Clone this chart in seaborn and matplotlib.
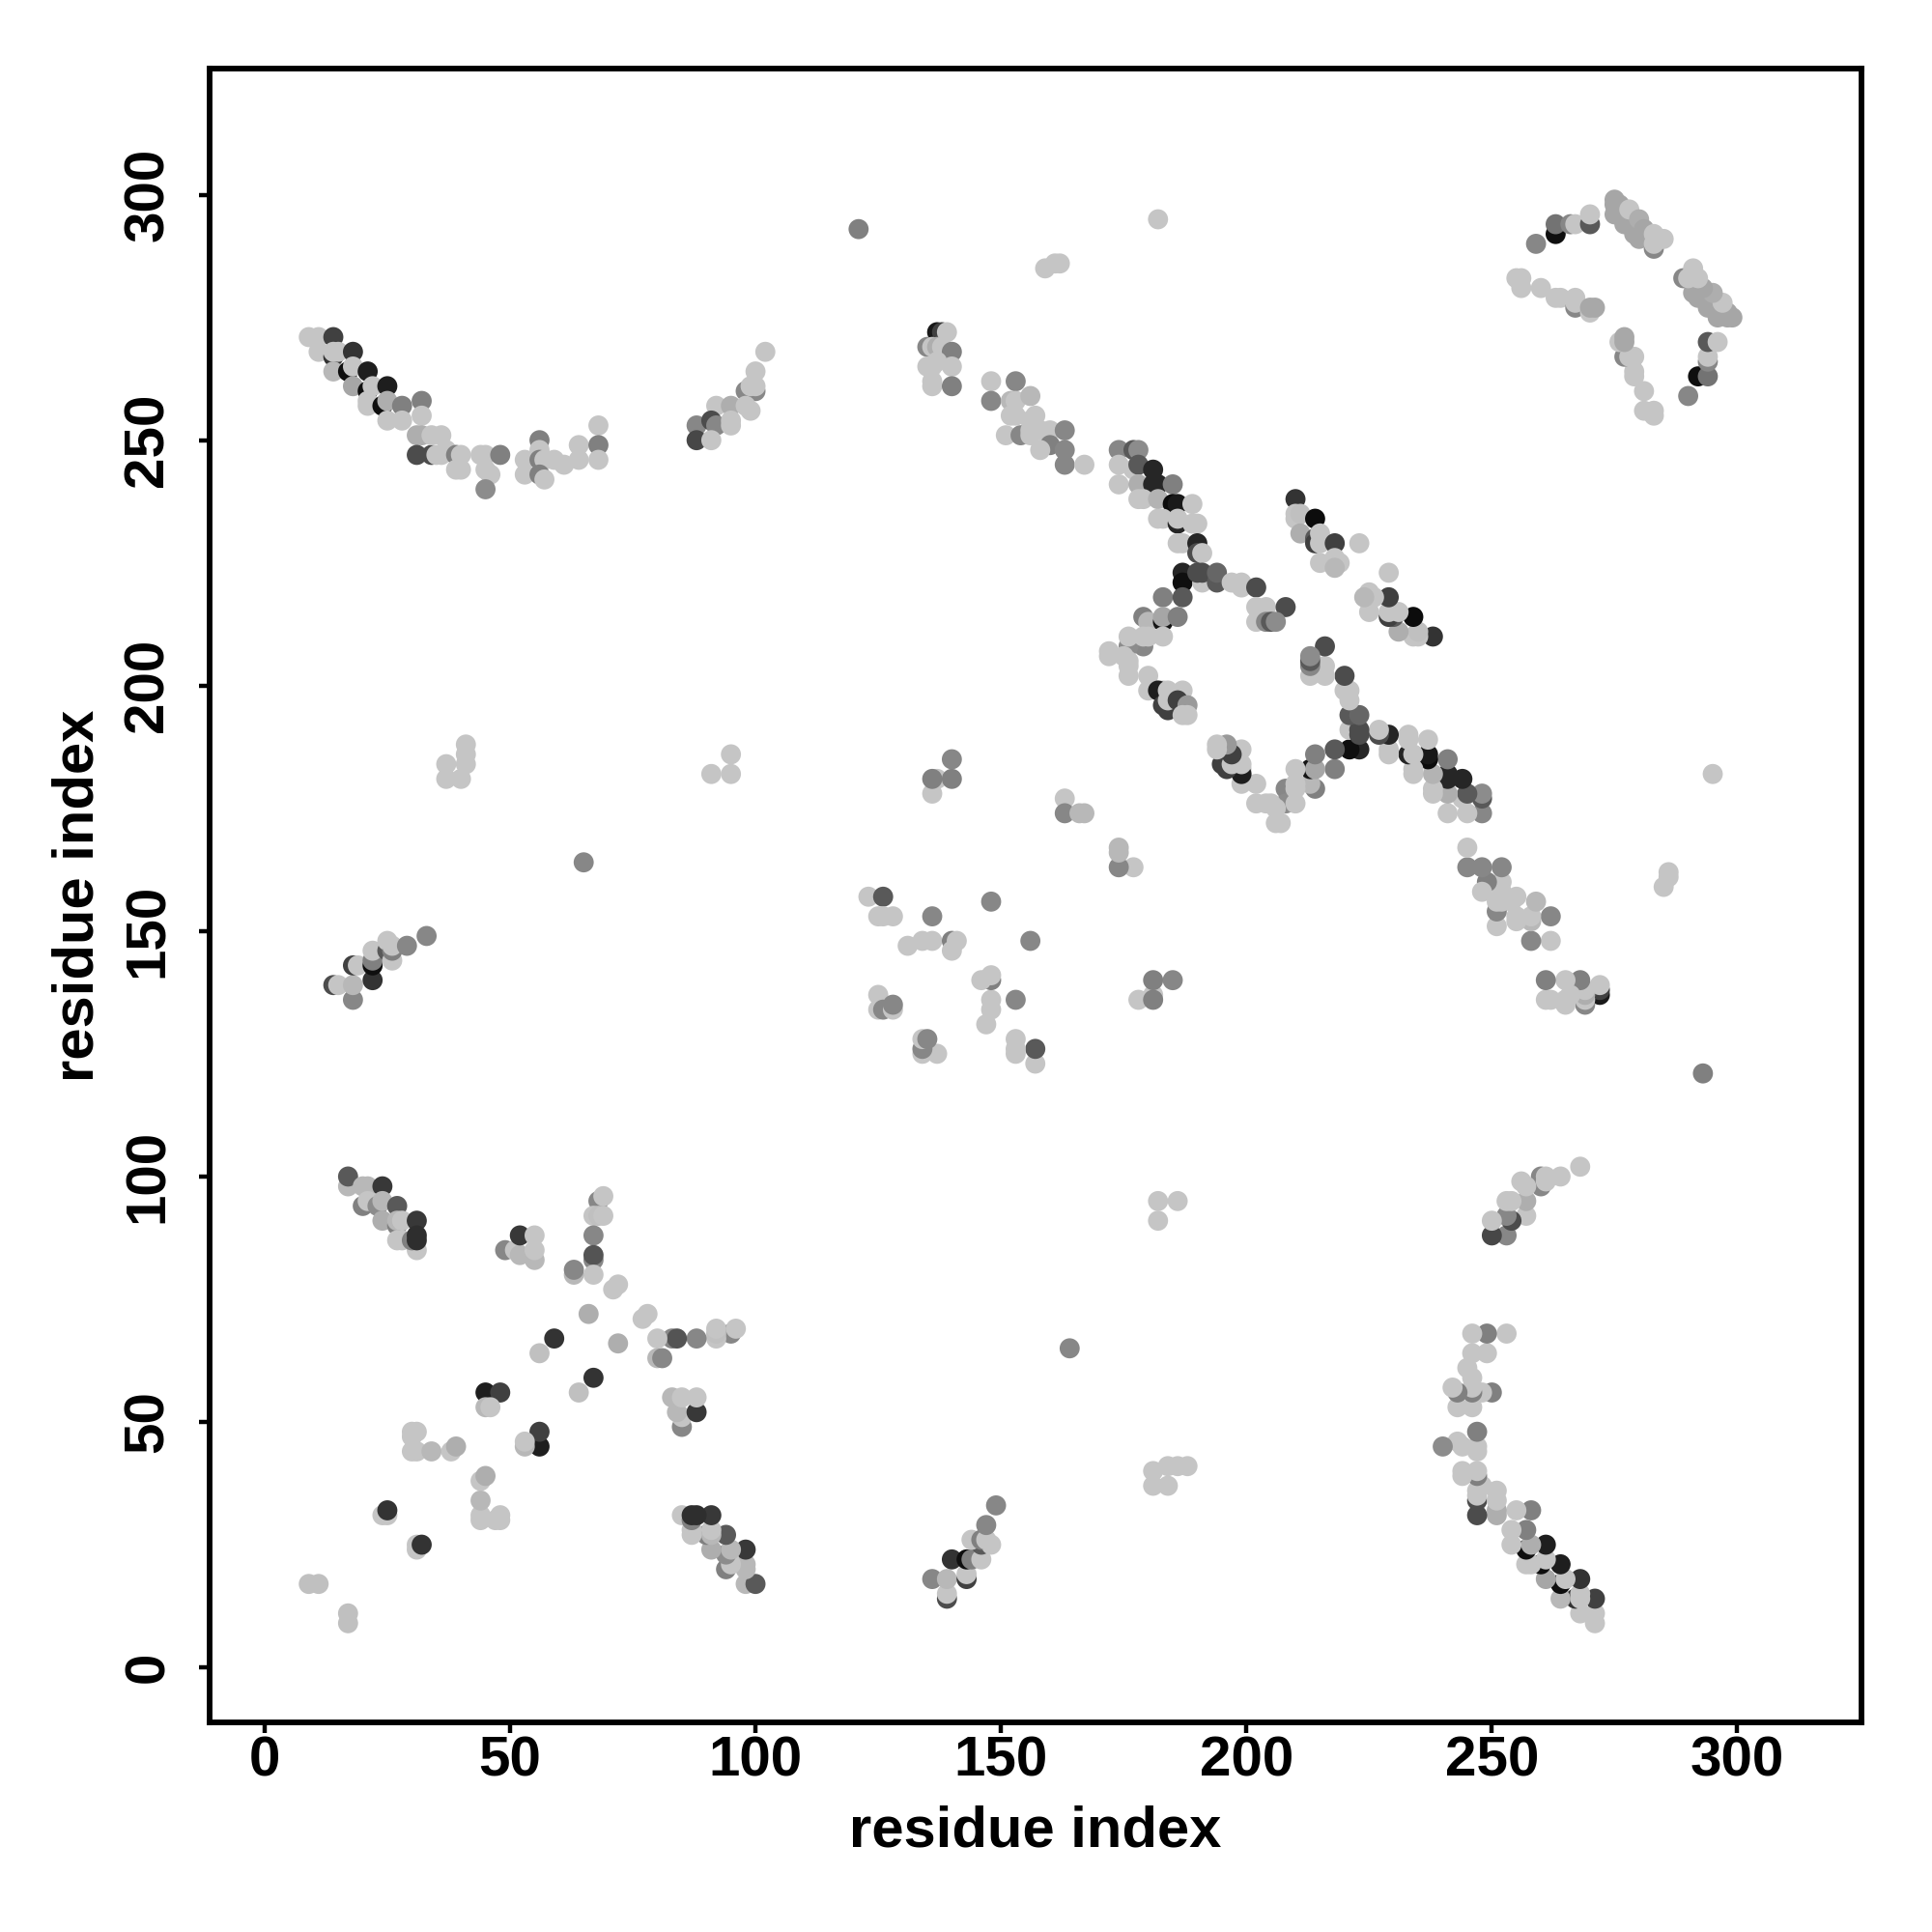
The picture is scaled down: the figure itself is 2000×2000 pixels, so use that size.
import matplotlib
matplotlib.use('Agg')
import matplotlib.pyplot as plt
import pandas as pd
import seaborn as sns

# contacts are read from the upper triangle, the map is symmetric
# gray is percent grey of each dot (0 black, 100 white)
arc_a_i = [9, 11, 14, 11, 14, 14, 15, 18, 14, 17, 18, 21, 18, 21, 22, 25, 21, 21, 24, 25,
           28, 32, 25, 28, 32, 31, 32, 31, 34, 34, 36, 35, 36, 37, 39, 40, 39, 40, 44, 45,
           48, 45, 46, 45, 53, 53, 56, 56, 56, 57, 56, 57, 59, 61, 64, 64, 68, 68, 68]
arc_a_j = [271, 271, 271, 268, 267, 268, 268, 268, 264, 264, 265, 264, 261, 260, 261, 261, 257, 258, 257, 258,
           257, 258, 254, 254, 255, 251, 251, 247, 247, 251, 251, 247, 247, 248, 247, 247, 244, 244, 247, 247,
           247, 244, 243, 240, 246, 243, 250, 248, 246, 246, 243, 242, 246, 245, 246, 249, 253, 249, 246]
arc_a_gray = [77, 77, 25, 77, 20, 77, 77, 20, 72, 6, 77, 12, 65, 6, 77, 12, 77, 77, 6, 68,
              50, 50, 77, 77, 77, 68, 68, 30, 30, 77, 77, 77, 77, 77, 50, 77, 77, 77, 77, 77,
              50, 77, 77, 55, 77, 77, 50, 77, 50, 77, 50, 77, 77, 77, 77, 77, 77, 50, 77]

arc_b_i = [102, 100, 98, 100, 99, 100, 92, 95, 98, 99, 88, 91, 92, 95, 95, 88, 91]
arc_b_j = [268, 264, 260, 260, 261, 261, 257, 257, 257, 256, 253, 254, 253, 254, 253, 250, 250]
arc_b_gray = [77, 77, 53, 53, 77, 77, 77, 68, 77, 77, 53, 30, 53, 77, 77, 28, 77]

arc_c_i = [137, 138, 139, 135, 136, 137, 138, 140, 135, 136, 137, 140, 136, 136, 140, 148, 153, 148, 152,
           153, 156, 152, 153, 157, 156, 151, 154, 156, 156, 158, 160, 163, 160, 158, 163, 163, 167]
arc_c_j = [272, 272, 272, 269, 269, 269, 269, 268, 265, 265, 266, 265, 262, 261, 261, 262, 262, 258, 258,
           258, 259, 255, 255, 255, 254, 251, 251, 252, 251, 252, 252, 252, 249, 248, 248, 245, 245]
arc_c_gray = [10, 25, 77, 53, 77, 68, 77, 50, 77, 77, 77, 77, 77, 77, 50, 77, 53, 53, 72,
              77, 72, 77, 77, 77, 77, 77, 53, 77, 77, 77, 77, 53, 50, 77, 53, 53, 77]

arc_d_i = [174, 177, 178, 174, 177, 178, 181, 174, 178, 181, 182, 185, 178, 179, 182, 185, 186, 189, 182, 183,
           186, 186, 189, 190, 186, 187, 190, 190, 191, 187, 187, 191, 190, 191, 194, 194, 197, 199, 199, 202,
           183, 187, 179, 180, 183, 183, 186, 179, 176, 176, 179, 180, 183, 172, 172, 175, 176, 176, 176, 180,
           180, 183, 182, 183, 184, 184, 184, 187, 186, 188, 188, 187, 202, 204, 208, 202, 204, 205, 206]
arc_d_j = [248, 248, 248, 245, 244, 245, 244, 241, 241, 241, 241, 241, 238, 238, 238, 237, 237, 237, 234, 234,
           233, 234, 233, 233, 229, 229, 229, 227, 227, 223, 221, 221, 223, 223, 221, 223, 221, 221, 220, 220,
           218, 218, 214, 213, 213, 214, 214, 208, 208, 210, 210, 210, 210, 207, 206, 206, 205, 204, 202, 202,
           199, 199, 199, 196, 199, 195, 197, 199, 197, 196, 194, 194, 216, 216, 216, 213, 213, 213, 213]
arc_d_gray = [53, 35, 55, 77, 77, 35, 15, 77, 68, 15, 15, 50, 77, 77, 70, 5, 10, 77, 77, 77,
              15, 77, 77, 77, 77, 77, 15, 30, 77, 15, 6, 77, 30, 30, 35, 40, 77, 77, 77, 30,
              50, 35, 50, 72, 8, 65, 50, 53, 55, 77, 77, 77, 77, 77, 77, 77, 77, 77, 77, 77,
              77, 77, 12, 25, 77, 25, 77, 77, 25, 60, 77, 77, 77, 77, 30, 77, 53, 35, 55]

arc_e_i = [210, 210, 210, 211, 211, 214, 214, 214, 215, 215, 218, 223, 215, 218, 219, 218, 218]
arc_e_j = [238, 234, 235, 235, 231, 234, 230, 229, 231, 229, 229, 229, 225, 226, 225, 225, 224]
arc_e_gray = [20, 77, 77, 75, 68, 5, 35, 25, 77, 77, 25, 77, 77, 77, 77, 77, 72]

arc_h_i = [259, 263, 263, 266, 267, 270, 270, 275, 275, 276, 275, 277, 278, 279, 280, 281, 280, 283, 283, 283,
           285, 255, 256, 256, 260, 263, 264, 267, 267, 267, 270, 270, 271]
arc_h_j = [290, 292, 294, 294, 294, 294, 296, 299, 298, 298, 296, 294, 297, 292, 295, 293, 291, 289, 290, 292,
           291, 283, 283, 281, 281, 279, 279, 277, 278, 279, 276, 277, 277]
arc_h_gray = [53, 6, 45, 53, 77, 35, 77, 65, 65, 65, 65, 65, 77, 65, 68, 65, 65, 53, 77, 77,
              77, 77, 77, 77, 77, 77, 77, 53, 77, 77, 77, 66, 66]

patch_i = [123, 126, 125, 126, 128, 136, 131, 134, 136, 140, 141, 140, 148, 125, 125, 126, 128, 128]
patch_j = [157, 157, 153, 153, 153, 153, 147, 148, 148, 148, 148, 146, 156, 137, 134, 134, 134, 135]
patch_gray = [77, 35, 77, 77, 77, 53, 77, 77, 77, 50, 77, 77, 53, 77, 77, 53, 77, 53]

strand_j_i = [14, 15, 18, 18, 18, 19, 22, 22, 22, 22, 25, 25, 26, 26, 26, 29, 33]
strand_j_j = [139, 139, 136, 139, 143, 143, 140, 143, 144, 146, 146, 148, 144, 146, 147, 147, 149]
strand_j_gray = [30, 77, 53, 72, 25, 77, 20, 6, 50, 77, 35, 77, 77, 50, 77, 53, 53]

strand_k_i = [17, 17, 20, 21, 24, 20, 21, 23, 24, 24, 27, 27, 27, 28, 31, 27, 28, 30, 31, 31, 31]
strand_k_j = [98, 100, 98, 98, 98, 94, 95, 94, 95, 91, 94, 90, 91, 91, 85, 87, 87, 87, 91, 87, 88]
strand_k_gray = [72, 35, 72, 72, 22, 50, 77, 55, 72, 68, 35, 50, 72, 77, 77, 77, 77, 50, 22, 18, 18]

core_i = [49, 51, 52, 52, 55, 55, 55, 68, 69, 67, 68, 69, 67, 67, 67, 67, 63, 63, 72, 71,
          66, 59, 56, 45, 48, 45, 46, 30, 31, 30, 30, 31, 34, 38, 39, 24, 25, 25, 9, 11]
core_j = [85, 85, 84, 88, 88, 83, 85, 95, 96, 92, 92, 92, 88, 83, 84, 80, 80, 81, 78, 77,
          72, 67, 64, 56, 56, 53, 53, 48, 48, 47, 44, 44, 44, 44, 45, 31, 31, 32, 17, 17]
core_gray = [53, 77, 72, 22, 77, 72, 77, 53, 77, 77, 75, 77, 53, 53, 33, 77, 72, 53, 77, 77,
             68, 20, 75, 12, 25, 72, 77, 77, 77, 77, 77, 77, 72, 77, 68, 77, 77, 20, 75, 75]

lone_i = [121, 182, 159, 161, 162, 65, 163, 163, 166, 167, 136, 137, 136, 140, 140,
          37, 37, 40, 41, 41, 41, 91, 95, 95]
lone_j = [293, 295, 285, 286, 286, 164, 177, 174, 174, 174, 178, 181, 181, 181, 185,
          184, 181, 181, 184, 188, 186, 182, 182, 186]
lone_gray = [50, 77, 77, 77, 77, 53, 77, 53, 72, 72, 77, 77, 50, 50, 53,
             77, 77, 77, 77, 77, 77, 77, 77, 77]

tick_values = [0, 50, 100, 150, 200, 250, 300]

res_i = (arc_a_i + arc_b_i + arc_c_i + arc_d_i + arc_e_i + arc_h_i + patch_i
         + strand_j_i + strand_k_i + core_i + lone_i)
res_j = (arc_a_j + arc_b_j + arc_c_j + arc_d_j + arc_e_j + arc_h_j + patch_j
         + strand_j_j + strand_k_j + core_j + lone_j)
gray = (arc_a_gray + arc_b_gray + arc_c_gray + arc_d_gray + arc_e_gray + arc_h_gray + patch_gray
        + strand_j_gray + strand_k_gray + core_gray + lone_gray)

contacts = pd.DataFrame({'x': res_i + res_j, 'y': res_j + res_i, 'gray': gray + gray})
contacts['gray'] = contacts['gray'] / 100

sns.set_style('white')
plt.rcParams['font.family'] = ['Liberation Sans', 'DejaVu Sans']

fig = plt.figure(figsize=(10, 10), dpi=200)
ax = fig.add_axes([0.1085, 0.1085, 0.8550, 0.856])
sns.scatterplot(x='x', y='y', hue='gray', data=contacts, palette='gray', hue_norm=(0, 1),
                s=56, linewidth=0, legend=False, ax=ax)

ax.set_xlim(-11.2, 325.3)
ax.set_ylim(-11.2, 325.7)
ax.set_xticks(tick_values)
ax.set_yticks(tick_values)
ax.tick_params(axis='both', length=4, width=1.6, color='black', direction='out',
               bottom=True, left=True, labelsize=21, labelcolor='black')
ax.tick_params(axis='x', pad=1)
ax.tick_params(axis='y', pad=9)
for label in ax.get_xticklabels():
    label.set_fontweight('bold')
for label in ax.get_yticklabels():
    label.set_fontweight('bold')
    label.set_rotation(90)
    label.set_verticalalignment('center')
for spine in ax.spines.values():
    spine.set_linewidth(2.1)
    spine.set_color('black')

ax.set_xlabel('residue index', fontsize=21.5, fontweight='bold', color='black', labelpad=6.5)
ax.set_ylabel('residue index', fontsize=21.5, fontweight='bold', color='black', labelpad=6.5)

fig.savefig('out.png', dpi=200)
